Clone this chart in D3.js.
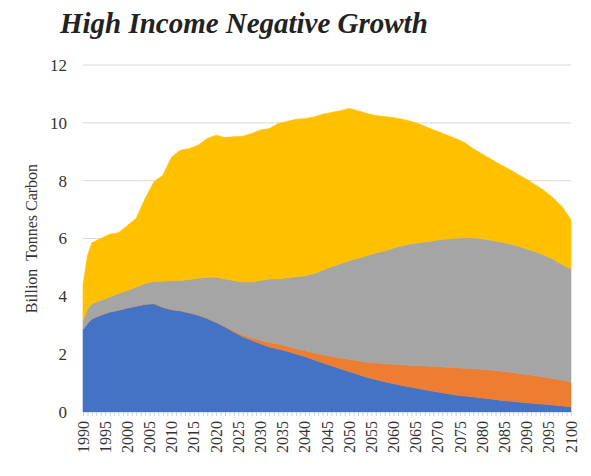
<!DOCTYPE html>
<html><head><meta charset="utf-8">
<script src="https://cdn.jsdelivr.net/npm/d3@7"></script>
<style>body{margin:0;background:#fff}svg{display:block}</style>
</head><body><svg id="c" width="591" height="476"></svg>
<script>
const years = [1990,1991,1992,1994,1996,1998,2000,2002,2004,2006,2008,2010,2012,2014,2016,2018,2020,2022,2024,2026,2028,2030,2032,2034,2036,2038,2040,2042,2044,2046,2048,2050,2052,2054,2056,2058,2060,2062,2064,2066,2068,2070,2072,2074,2076,2078,2080,2082,2084,2086,2088,2090,2092,2094,2096,2098,2100];
const seriesBlue = [2.85,3.06,3.22,3.35,3.46,3.52,3.60,3.66,3.73,3.75,3.62,3.54,3.50,3.43,3.35,3.24,3.10,2.94,2.77,2.60,2.48,2.36,2.25,2.18,2.10,2.01,1.92,1.81,1.70,1.60,1.50,1.40,1.30,1.20,1.12,1.05,0.98,0.92,0.86,0.80,0.74,0.69,0.64,0.59,0.55,0.52,0.48,0.45,0.41,0.38,0.35,0.32,0.29,0.27,0.24,0.21,0.18];
const seriesOrange = [0,0,0,0,0,0,0,0,0,0,0,0,0,0,0,0,0,0.02,0.04,0.06,0.09,0.12,0.15,0.17,0.18,0.19,0.20,0.24,0.28,0.33,0.37,0.42,0.47,0.52,0.58,0.62,0.67,0.71,0.75,0.80,0.84,0.88,0.91,0.94,0.96,0.98,1.00,1.00,1.01,1.00,0.99,0.98,0.96,0.94,0.92,0.89,0.87];
const seriesGray = [0.30,0.49,0.53,0.51,0.52,0.58,0.60,0.66,0.71,0.77,0.90,1.01,1.05,1.15,1.28,1.42,1.56,1.64,1.74,1.84,1.93,2.07,2.20,2.25,2.36,2.48,2.59,2.73,2.92,3.09,3.26,3.41,3.55,3.68,3.80,3.91,4.02,4.12,4.21,4.26,4.32,4.38,4.43,4.48,4.52,4.52,4.51,4.49,4.47,4.44,4.40,4.34,4.29,4.21,4.12,4.00,3.90];
const seriesYellow = [1.25,1.85,2.10,2.14,2.17,2.10,2.25,2.38,2.94,3.44,3.67,4.27,4.51,4.53,4.60,4.80,4.91,4.89,4.97,5.04,5.13,5.20,5.20,5.38,5.41,5.44,5.44,5.42,5.40,5.34,5.29,5.27,5.10,4.92,4.75,4.64,4.51,4.37,4.23,4.09,3.92,3.75,3.60,3.45,3.29,3.08,2.93,2.80,2.67,2.58,2.48,2.41,2.31,2.23,2.12,2.00,1.70];
const yTicks = [0,2,4,6,8,10,12];
const xLabelYears = d3.range(1990, 2101, 5);
const titleText = "High Income Negative Growth";
const yTitle = "Billion  Tonnes Carbon";

const keys = ["blue","orange","gray","yellow"];
const colors = {blue:"#4472C4",orange:"#ED7D31",gray:"#A5A5A5",yellow:"#FFC000"};
const table = years.map((y,i)=>({year:y,blue:seriesBlue[i],orange:seriesOrange[i],gray:seriesGray[i],yellow:seriesYellow[i]}));

const svg = d3.select("#c");
const L=83,R=571,T=65,B=412;
const x = d3.scaleLinear().domain([1990,2100]).range([L,R]);
const y = d3.scaleLinear().domain([0,12]).range([B,T]);
const serif = "'Liberation Serif','Times New Roman',serif";

// gridlines
svg.append("g").selectAll("line").data(yTicks.filter(d=>d>0)).join("line")
  .attr("x1",L).attr("x2",R).attr("y1",d=>y(d)).attr("y2",d=>y(d))
  .attr("stroke","#d9d9d9").attr("stroke-width",1);

const stack = d3.stack().keys(keys)(table);
const area = d3.area().x(d=>x(d.data.year)).y0(d=>y(d[0])).y1(d=>y(d[1]));
svg.append("g").selectAll("path").data(stack).join("path")
  .attr("d",area).attr("fill",d=>colors[d.key]).attr("stroke",d=>colors[d.key]).attr("stroke-width",0.6);

// x axis: annual minor ticks
const xAxis = d3.axisBottom(x).tickValues(d3.range(1990,2101,1)).tickSize(4).tickFormat("");
const gx = svg.append("g").attr("transform",`translate(0,${B})`).call(xAxis);
gx.select(".domain").attr("stroke","#d9e1f2");
gx.selectAll(".tick line").attr("stroke","#c5d2ea");
svg.append("g").selectAll("text").data(xLabelYears).join("text")
  .attr("transform",d=>`translate(${x(d)+5.5},421) rotate(-90)`)
  .attr("text-anchor","end").attr("font-family",serif).attr("font-size",16)
  .attr("fill","#333").text(d=>d);

// y axis labels
const yAxis = d3.axisLeft(y).tickValues(yTicks).tickSize(0).tickPadding(15);
const gy = svg.append("g").attr("transform",`translate(${L-1},0)`).call(yAxis);
gy.select(".domain").remove();
gy.selectAll("text").attr("font-family",serif).attr("font-size",17).attr("fill","#333");

svg.append("text").attr("transform",`translate(37,${(T+B)/2}) rotate(-90)`)
  .attr("text-anchor","middle").attr("font-family",serif).attr("font-size",16)
  .attr("fill","#333").attr("xml:space","preserve").style("white-space","pre").text(yTitle);

const t = svg.append("text").attr("x",60).attr("y",33).attr("font-family",serif)
  .attr("font-weight","bold").attr("font-style","italic").attr("font-size",26)
  .attr("fill","#222").text(titleText);
const w = t.node().getComputedTextLength();
t.attr("font-size", 26*368/w);
</script></body></html>
